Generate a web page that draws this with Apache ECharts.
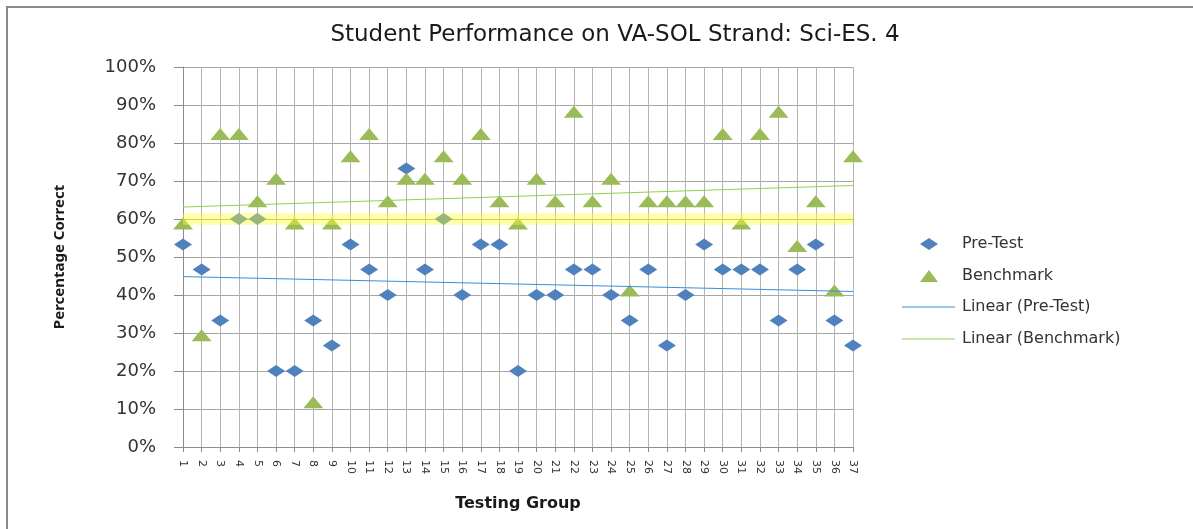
<!DOCTYPE html>
<html>
<head>
<meta charset="utf-8">
<script src="https://cdn.jsdelivr.net/npm/echarts@6.0.0/dist/echarts.min.js"></script>
<style>
  html, body { margin: 0; padding: 0; background: #fff; }
  #chart { width: 1193px; height: 529px; }
</style>
</head>
<body>
<div id="chart"></div>
<script>
// testing groups 1..37
var groups = [1, 2, 3, 4, 5, 6, 7, 8, 9, 10, 11, 12, 13, 14, 15, 16, 17, 18, 19, 20,
  21, 22, 23, 24, 25, 26, 27, 28, 29, 30, 31, 32, 33, 34, 35, 36, 37]

// percent correct per group
var preTest = [53.3, 46.7, 33.3, 60, 60, 20, 20, 33.3, 26.7, 53.3, 46.7, 40, 73.3, 46.7, 60,
  40, 53.3, 53.3, 20, 40, 40, 46.7, 46.7, 40, 33.3, 46.7, 26.7, 40, 53.3, 46.7, 46.7, 46.7,
  33.3, 46.7, 53.3, 33.3, 26.7]
var benchmark = [58.8, 29.4, 82.4, 82.4, 64.7, 70.6, 58.8, 11.8, 58.8, 76.5, 82.4, 64.7, 70.6,
  70.6, 76.5, 70.6, 82.4, 64.7, 58.8, 70.6, 64.7, 88.2, 64.7, 70.6, 41.2, 64.7, 64.7, 64.7,
  64.7, 82.4, 58.8, 82.4, 88.2, 52.9, 64.7, 41.2, 76.5]

var yTicks = [0, 100, 10]   // min, max, step
var targetBand = [58.5, 61.5] // highlighted 60% band

function pairs (xs, ys) {
  return xs.map((x, i) => [x, ys[i]])
}

// least squares trend, like excel's "Linear" trendline
function trend (xs, ys) {
  var n = xs.length
  var mx = xs.reduce((a, b) => a + b, 0) / n
  var my = ys.reduce((a, b) => a + b, 0) / n
  var sxy = 0, sxx = 0
  xs.forEach((x, i) => {
    sxy += (x - mx) * (ys[i] - my)
    sxx += (x - mx) * (x - mx)
  })
  var k = sxy / sxx
  var x0 = xs[0], x1 = xs[n - 1]
  return [[x0, my + k * (x0 - mx)], [x1, my + k * (x1 - mx)]]
}

var font = 'DejaVu Sans'
var legendText = { fontFamily: font, fontSize: 16, lineHeight: 16, color: '#333' }
var chart = echarts.init(document.getElementById('chart'), null, { renderer: 'canvas' })

chart.setOption({
  animation: false,
  backgroundColor: '#fff',
  title: {
    text: 'Student Performance on VA-SOL Strand: Sci-ES. 4',
    left: 610,
    top: 19,
    textAlign: 'center',
    textStyle: { fontFamily: font, fontSize: 23, fontWeight: 'normal', color: '#1a1a1a' }
  },
  graphic: [{
    type: 'rect',
    shape: { x: 7, y: 7, width: 1400, height: 700 },
    style: { fill: 'none', stroke: '#8a8a8a', lineWidth: 2 },
    silent: true
  }],
  legend: [
    {
      // marker entries
      orient: 'vertical',
      left: 915,
      top: 231,
      itemWidth: 18,
      itemHeight: 12,
      itemGap: 16,
      textStyle: Object.assign({ padding: [0, 0, 0, 19] }, legendText),
      data: ['Pre-Test', 'Benchmark']
    },
    {
      // trendline entries
      orient: 'vertical',
      left: 897,
      top: 294,
      icon: 'rect',
      itemWidth: 53,
      itemHeight: 1,
      itemGap: 16,
      textStyle: Object.assign({ padding: [0, 0, 0, 2] }, legendText),
      data: ['Linear (Pre-Test)', 'Linear (Benchmark)']
    }
  ],
  grid: { left: 183, right: 340, top: 67, bottom: 82, containLabel: false },
  xAxis: {
    type: 'value',
    min: groups[0],
    max: groups[groups.length - 1],
    interval: 1,
    name: 'Testing Group',
    nameLocation: 'middle',
    nameGap: 49,
    nameTextStyle: { fontFamily: font, fontSize: 16, fontWeight: 'bold', color: '#1a1a1a' },
    axisLine: { lineStyle: { color: '#8c8c8c', width: 1 } },
    axisTick: { length: 5, lineStyle: { color: '#8c8c8c' } },
    axisLabel: { rotate: -90, margin: 13, fontFamily: font, fontSize: 11, color: '#333' },
    splitLine: { show: true, lineStyle: { color: '#b4b4b4', width: 1 } }
  },
  yAxis: {
    type: 'value',
    min: yTicks[0],
    max: yTicks[1],
    interval: yTicks[2],
    name: 'Percentage Correct',
    nameLocation: 'middle',
    nameGap: 116,
    nameTextStyle: { fontFamily: 'Noto Sans', fontSize: 15, fontWeight: 'bold', color: '#1a1a1a' },
    axisLine: { show: true, lineStyle: { color: '#8c8c8c', width: 1 } },
    axisTick: { show: true, length: 9, lineStyle: { color: '#8c8c8c' } },
    axisLabel: { formatter: '{value}%', margin: 27, fontFamily: font, fontSize: 18, color: '#333' },
    splitLine: { show: true, lineStyle: { color: '#a6a6a6', width: 1 } }
  },
  series: [
    {
      name: 'Pre-Test',
      type: 'scatter',
      symbol: 'diamond',
      symbolSize: [18, 12],
      itemStyle: { color: '#4f81bd', opacity: 1 },
      data: pairs(groups, preTest),
      z: 3
    },
    {
      name: 'Benchmark',
      type: 'scatter',
      symbol: 'triangle',
      symbolSize: [20, 12],
      itemStyle: { color: '#9bbb59', opacity: 1 },
      data: pairs(groups, benchmark),
      z: 3
    },
    {
      name: 'Linear (Pre-Test)',
      type: 'line',
      symbol: 'none',
      lineStyle: { color: '#3a8fd8', width: 1 },
      itemStyle: { color: '#3a8fd8' },
      data: trend(groups, preTest),
      z: 4
    },
    {
      name: 'Linear (Benchmark)',
      type: 'line',
      symbol: 'none',
      lineStyle: { color: '#92d050', width: 1 },
      itemStyle: { color: '#92d050' },
      data: trend(groups, benchmark),
      z: 4
    },
    {
      // yellow target band drawn over the marks
      type: 'line',
      data: [],
      z: 6,
      markArea: {
        silent: true,
        z: 6,
        itemStyle: { color: 'rgba(255, 255, 40, 0.42)' },
        data: [[{ yAxis: targetBand[0] }, { yAxis: targetBand[1] }]]
      }
    }
  ]
})
</script>
</body>
</html>
